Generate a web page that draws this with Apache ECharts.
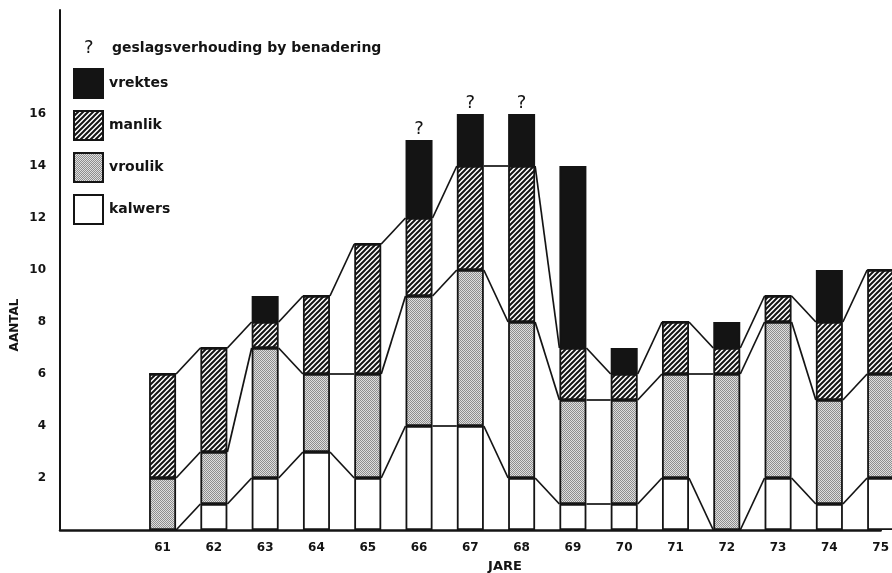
<!DOCTYPE html>
<html>
<head>
<meta charset="utf-8">
<script src="https://cdn.jsdelivr.net/npm/echarts@6/dist/echarts.min.js"></script>
<style>
html,body{margin:0;padding:0;background:#fff;}
#main{width:892px;height:573px;}
</style>
</head>
<body>
<div id="main"></div>
<script>
// ---- data ----
const years = ['61','62','63','64','65','66','67','68','69','70','71','72','73','74','75'];
const kalwers = [0,1,2,3,2,4,4,2,1,1,2,0,2,1,2];
const vroulik = [2,2,5,3,4,5,6,6,4,4,4,6,6,4,4];
const manlik  = [4,4,1,3,5,3,4,6,2,1,2,1,1,3,4];
const vrektes = [0,0,1,0,0,3,2,2,7,1,0,1,0,2,0];
const uncertainYears = ['66','67','68'];
const yTickLabels = [2,4,6,8,10,12,14,16];
const seriesNames = ['kalwers','vroulik','manlik','vrektes'];
const legendNote = 'geslagsverhouding by benadering';
const yTitle = 'AANTAL';
const xTitle = 'JARE';

// ---- styling helpers ----
const PAD = 2; // empty slots before first year
const BAR_W = 27;
const INK = '#141414';

function hatchPattern(){
  const c = document.createElement('canvas');
  const s = 5; c.width = s; c.height = s;
  const g = c.getContext('2d');
  g.fillStyle = '#fff'; g.fillRect(0,0,s,s);
  g.strokeStyle = INK; g.lineWidth = 2;
  g.beginPath();
  g.moveTo(-1, s+1); g.lineTo(s+1, -1);
  g.moveTo(-1, 1); g.lineTo(1, -1);
  g.moveTo(s-1, s+1); g.lineTo(s+1, s-1);
  g.stroke();
  return {image: c, repeat: 'repeat'};
}
function stipplePattern(){
  const c = document.createElement('canvas');
  c.width = 2; c.height = 2;
  const g = c.getContext('2d');
  g.fillStyle = '#dedede'; g.fillRect(0,0,2,2);
  g.fillStyle = '#8e8e8e';
  g.fillRect(0,0,1,1); g.fillRect(1,1,1,1);
  return {image: c, repeat: 'repeat'};
}

const fills = {
  kalwers: '#ffffff',
  vroulik: stipplePattern(),
  manlik: hatchPattern(),
  vrektes: INK
};
const values = {kalwers, vroulik, manlik, vrektes};

const categories = Array(PAD).fill('').concat(years);
const pad = arr => Array(PAD).fill(null).concat(arr);

// cumulative tops for connecting lines
const cum1 = kalwers.map((v,i)=>v);
const cum2 = kalwers.map((v,i)=>v+vroulik[i]);
const cum3 = kalwers.map((v,i)=>v+vroulik[i]+manlik[i]);

function connectorSeries(cum, name){
  const data = [];
  for (let i=0;i<cum.length-1;i++) data.push([i+PAD, cum[i], cum[i+1]]);
  return {
    type:'custom', name: name, silent:true, z:1,
    encode:{x:0, y:[1,2]},
    data: data,
    renderItem: function(params, api){
      const x = api.value(0);
      const p1 = api.coord([x, api.value(1)]);
      const p2 = api.coord([x+1, api.value(2)]);
      const h = BAR_W/2;
      return {type:'line', shape:{x1:p1[0]+h, y1:p1[1], x2:p2[0]-h, y2:p2[1]},
        style:{stroke:INK, lineWidth:1.7}};
    }
  };
}

const barSeries = seriesNames.map(name => ({
  name: name, type:'bar', stack:'total', barWidth: BAR_W, z:3,
  data: pad(values[name]),
  itemStyle:{color: fills[name], borderColor: INK, borderWidth: 1.8},
  label: name === 'vrektes' ? {
    show:true, position:'top', distance:2,
    formatter: p => uncertainYears.includes(categories[p.dataIndex]) ? '?' : '',
    fontFamily:'DejaVu Sans', fontSize:18, color:INK
  } : {show:false}
}));

const chart = echarts.init(document.getElementById('main'), null, {renderer:'canvas'});
chart.setOption({
  backgroundColor:'#fff',
  animation:false,
  grid:{left:60, right:0, top:10, bottom:43, containLabel:false},
  legend:{
    data:['vrektes','manlik','vroulik','kalwers'],
    orient:'vertical', left:73, top:68, padding:0, itemWidth:29, itemHeight:29, itemGap:11,
    icon:'rect', selectedMode:false,
    textStyle:{fontFamily:'DejaVu Sans', fontWeight:'bold', fontSize:14, color:INK, padding:[0,0,5,1]}
  },
  xAxis:{
    type:'category', data:categories, boundaryGap:false,
    axisLine:{lineStyle:{color:INK, width:2.5}},
    axisTick:{show:false},
    axisLabel:{margin:12, fontFamily:'DejaVu Sans', fontWeight:'bold', fontSize:12, color:INK, interval:0},
    splitLine:{show:false}
  },
  yAxis:{
    type:'value', min:0, max:20, interval:2,
    axisLine:{show:true, lineStyle:{color:INK, width:2}},
    axisTick:{show:false},
    splitLine:{show:false},
    axisLabel:{margin:14, fontFamily:'DejaVu Sans', fontWeight:'bold', fontSize:12, color:INK,
      formatter: v => yTickLabels.includes(v) ? String(v) : ''}
  },
  graphic:[
    {type:'text', left:84, top:39, style:{text:'?', font:'18px "DejaVu Sans"', fill:INK}},
    {type:'text', left:112, top:41, style:{text:legendNote, font:'bold 14px "DejaVu Sans"', fill:INK}},
    {type:'text', x:15, y:325, rotation:Math.PI/2, style:{text:yTitle, font:'bold 12px "DejaVu Sans"', fill:INK, align:'center', verticalAlign:'middle'}},
    {type:'text', x:505, y:567, style:{text:xTitle, font:'bold 13px "DejaVu Sans"', fill:INK, align:'center', verticalAlign:'middle'}}
  ],
  series: [connectorSeries(cum1,'l1'), connectorSeries(cum2,'l2'), connectorSeries(cum3,'l3')].concat(barSeries)
});
</script>
</body>
</html>
